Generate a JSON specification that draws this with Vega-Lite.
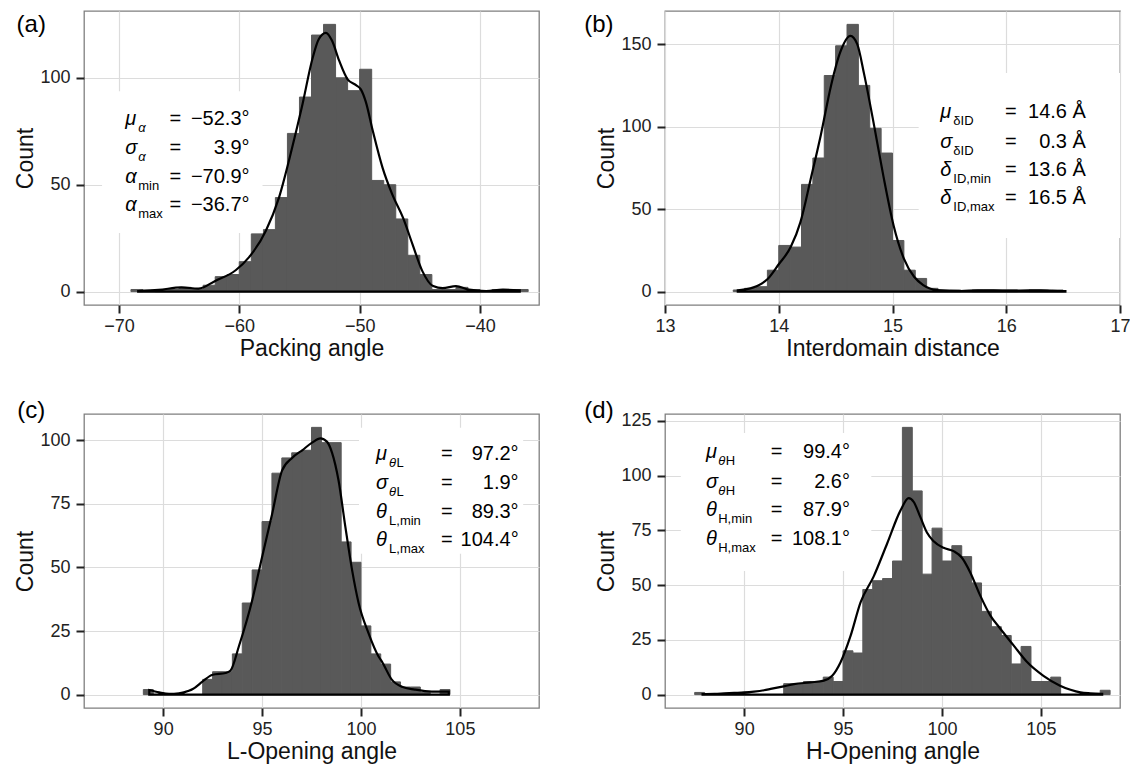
{
"$schema": "https://vega.github.io/schema/vega-lite/v6.json",
"background": "white",
"padding": {"left": 14, "top": 10, "right": 2, "bottom": 2},
"autosize": {"type": "pad"},
"config": {
 "font": "Liberation Sans",
 "view": {"stroke": "#7f7f7f", "strokeWidth": 1.3},
 "axis": {"domain": false, "labelFont": "Liberation Sans", "titleFont": "Liberation Sans", "labelFontSize": 18, "titleFontSize": 23, "titleFontWeight": "normal", "labelColor": "#222", "titleColor": "#111", "tickColor": "#222", "tickWidth": 2, "tickSize": 8, "labelPadding": 4, "titlePadding": 2, "gridColor": "#dcdcdc", "gridWidth": 1.2, "labelFlush": false, "labelOverlap": false},
 "axisY": {"titlePadding": 2, "labelPadding": 6},
 "text": {"font": "Liberation Sans", "color": "#000"}
},
"datasets": {
 "hist_a": [
  {"x0":-69,"x1":-68,"n":1},{"x0":-67,"x1":-66,"n":1},{"x0":-66,"x1":-65,"n":1},{"x0":-65,"x1":-64,"n":2},{"x0":-64,"x1":-63,"n":1},{"x0":-63,"x1":-62,"n":3},{"x0":-62,"x1":-61,"n":7},{"x0":-61,"x1":-60,"n":8},{"x0":-60,"x1":-59,"n":14},{"x0":-59,"x1":-58,"n":27},{"x0":-58,"x1":-57,"n":29},{"x0":-57,"x1":-56,"n":44},{"x0":-56,"x1":-55,"n":74},{"x0":-55,"x1":-54,"n":91},{"x0":-54,"x1":-53,"n":120},{"x0":-53,"x1":-52,"n":125},{"x0":-52,"x1":-51,"n":100},{"x0":-51,"x1":-50,"n":94},{"x0":-50,"x1":-49,"n":104},{"x0":-49,"x1":-48,"n":52},{"x0":-48,"x1":-47,"n":50},{"x0":-47,"x1":-46,"n":34},{"x0":-46,"x1":-45,"n":17},{"x0":-45,"x1":-44,"n":8},{"x0":-44,"x1":-43,"n":1},{"x0":-43,"x1":-42,"n":1},{"x0":-42,"x1":-41,"n":2},{"x0":-41,"x1":-40,"n":1},{"x0":-39,"x1":-38,"n":1},{"x0":-38,"x1":-37,"n":1},{"x0":-37,"x1":-36,"n":1}
 ],
 "dens_a": [
  {"x":-68.4,"y":0.3},{"x":-66.7,"y":0.8},{"x":-64.8,"y":2.0},{"x":-63.4,"y":1.4},{"x":-62.0,"y":5},{"x":-60.3,"y":10},{"x":-59.2,"y":16},{"x":-57.8,"y":28.4},{"x":-56.7,"y":44},{"x":-55.6,"y":67.5},{"x":-54.8,"y":86.3},{"x":-53.9,"y":109.4},{"x":-53.4,"y":118},{"x":-52.8,"y":121},{"x":-52.3,"y":117.4},{"x":-51.7,"y":108},{"x":-51.0,"y":99.3},{"x":-50.3,"y":96.6},{"x":-49.9,"y":94.6},{"x":-49.5,"y":89},{"x":-48.9,"y":75},{"x":-48.1,"y":58},{"x":-47.3,"y":45.6},{"x":-46.4,"y":34.6},{"x":-45.6,"y":22},{"x":-44.8,"y":9.7},{"x":-43.9,"y":2.6},{"x":-43.1,"y":1.6},{"x":-42.0,"y":2.6},{"x":-40.9,"y":0.9},{"x":-39.5,"y":0.3},{"x":-38.1,"y":0.9},{"x":-36.7,"y":0.6}
 ],
 "box_a": [{"x0":-71.4,"x1":-58.07,"y0":27.4,"y1":93.7,"lx":-78.5,"ly":121.4,"lab":"(a)"}],
 "ann_a": [
  {"y":77.9,"sym":"μ","subi":"α","subr":"","sub":"","val":"−52.3°"},
  {"y":64.4,"sym":"σ","subi":"α","subr":"","sub":"","val":"3.9°"},
  {"y":50.8,"sym":"α","subi":"","subr":"","sub":"min","val":"−70.9°"},
  {"y":37.7,"sym":"α","subi":"","subr":"","sub":"max","val":"−36.7°"}
 ],
 "hist_b": [
  {"x0":13.6,"x1":13.7,"n":1},{"x0":13.7,"x1":13.8,"n":2},{"x0":13.8,"x1":13.9,"n":3},{"x0":13.9,"x1":14.0,"n":13},{"x0":14.0,"x1":14.1,"n":28},{"x0":14.1,"x1":14.2,"n":27},{"x0":14.2,"x1":14.3,"n":65},{"x0":14.3,"x1":14.4,"n":81},{"x0":14.4,"x1":14.5,"n":131},{"x0":14.5,"x1":14.6,"n":149},{"x0":14.6,"x1":14.7,"n":162},{"x0":14.7,"x1":14.8,"n":125},{"x0":14.8,"x1":14.9,"n":99},{"x0":14.9,"x1":15.0,"n":84},{"x0":15.0,"x1":15.1,"n":31},{"x0":15.1,"x1":15.2,"n":13},{"x0":15.2,"x1":15.3,"n":8},{"x0":15.3,"x1":15.4,"n":2},{"x0":15.4,"x1":15.5,"n":1},{"x0":15.5,"x1":15.6,"n":1},{"x0":15.7,"x1":15.8,"n":1},{"x0":15.8,"x1":15.9,"n":1},{"x0":15.9,"x1":16.0,"n":1},{"x0":16.0,"x1":16.1,"n":1},{"x0":16.2,"x1":16.3,"n":1},{"x0":16.3,"x1":16.4,"n":1},{"x0":16.4,"x1":16.5,"n":1}
 ],
 "dens_b": [
  {"x":13.64,"y":0.8},{"x":13.75,"y":2.0},{"x":13.81,"y":3.4},{"x":13.90,"y":7.5},{"x":14.0,"y":16.6},{"x":14.105,"y":27},{"x":14.19,"y":42},{"x":14.28,"y":68},{"x":14.37,"y":95},{"x":14.46,"y":125},{"x":14.54,"y":145},{"x":14.63,"y":155},{"x":14.69,"y":150},{"x":14.75,"y":132},{"x":14.84,"y":100},{"x":14.92,"y":70},{"x":15.01,"y":40},{"x":15.10,"y":20},{"x":15.19,"y":9},{"x":15.27,"y":4},{"x":15.39,"y":1},{"x":15.6,"y":0.4},{"x":15.75,"y":0.8},{"x":15.89,"y":0.8},{"x":16.04,"y":0.6},{"x":16.2,"y":0.8},{"x":16.3,"y":0.8},{"x":16.4,"y":0.5},{"x":16.52,"y":0.3}
 ],
 "box_b": [{"x0":15.23,"x1":17.0,"y0":32.5,"y1":132.5,"lx":12.29,"ly":157.4,"lab":"(b)"}],
 "ann_b": [
  {"y":105.2,"sym":"μ","subi":"","subr":"","sub":"δID","val":"14.6 Å"},
  {"y":87.1,"sym":"σ","subi":"","subr":"","sub":"δID","val":"0.3 Å"},
  {"y":70.1,"sym":"δ","subi":"","subr":"","sub":"ID,min","val":"13.6 Å"},
  {"y":53.1,"sym":"δ","subi":"","subr":"","sub":"ID,max","val":"16.5 Å"}
 ],
 "hist_c": [
  {"x0":89.0,"x1":89.5,"n":2},{"x0":92.0,"x1":92.5,"n":6},{"x0":92.5,"x1":93.0,"n":9},{"x0":93.0,"x1":93.5,"n":9},{"x0":93.5,"x1":94.0,"n":16},{"x0":94.0,"x1":94.5,"n":36},{"x0":94.5,"x1":95.0,"n":49},{"x0":95.0,"x1":95.5,"n":68},{"x0":95.5,"x1":96.0,"n":87},{"x0":96.0,"x1":96.5,"n":93},{"x0":96.5,"x1":97.0,"n":95},{"x0":97.0,"x1":97.5,"n":96},{"x0":97.5,"x1":98.0,"n":105},{"x0":98.0,"x1":98.5,"n":99},{"x0":98.5,"x1":99.0,"n":99},{"x0":99.0,"x1":99.5,"n":60},{"x0":99.5,"x1":100.0,"n":52},{"x0":100.0,"x1":100.5,"n":27},{"x0":100.5,"x1":101.0,"n":16},{"x0":101.0,"x1":101.5,"n":12},{"x0":101.5,"x1":102.0,"n":5},{"x0":102.0,"x1":102.5,"n":3},{"x0":102.5,"x1":103.0,"n":3},{"x0":103.0,"x1":103.5,"n":1},{"x0":104.0,"x1":104.5,"n":2}
 ],
 "dens_c": [
  {"x":89.3,"y":1.8},{"x":89.8,"y":0.9},{"x":90.3,"y":0.3},{"x":90.8,"y":0.5},{"x":91.3,"y":1.5},{"x":91.5,"y":2.2},{"x":92.0,"y":5.2},{"x":92.5,"y":7.8},{"x":93.16,"y":8.5},{"x":93.41,"y":9.5},{"x":93.83,"y":19},{"x":94.5,"y":37},{"x":95.0,"y":54},{"x":95.51,"y":71},{"x":96.01,"y":88},{"x":96.52,"y":93},{"x":97.03,"y":96},{"x":97.53,"y":99},{"x":97.95,"y":100.7},{"x":98.29,"y":99.3},{"x":98.54,"y":95},{"x":98.87,"y":84},{"x":99.21,"y":66},{"x":99.55,"y":49},{"x":99.88,"y":36},{"x":100.39,"y":24},{"x":100.89,"y":15},{"x":101.06,"y":13},{"x":101.56,"y":5.9},{"x":102.07,"y":3.1},{"x":102.72,"y":2},{"x":103.58,"y":1.2},{"x":104.44,"y":1.2}
 ],
 "box_c": [{"x0":99.9,"x1":108.2,"y0":55.3,"y1":104.8,"lx":82.62,"ly":108.7,"lab":"(c)"}],
 "ann_c": [
  {"y":92.2,"sym":"μ","subi":"θ","subr":"L","sub":"","val":"97.2°"},
  {"y":80.8,"sym":"σ","subi":"θ","subr":"L","sub":"","val":"1.9°"},
  {"y":69.45,"sym":"θ","subi":"","subr":"","sub":"L,min","val":"89.3°"},
  {"y":58.5,"sym":"θ","subi":"","subr":"","sub":"L,max","val":"104.4°"}
 ],
 "hist_d": [
  {"x0":87.5,"x1":88.0,"n":1},{"x0":92.0,"x1":92.5,"n":5},{"x0":92.5,"x1":93.0,"n":5},{"x0":93.0,"x1":93.5,"n":6},{"x0":93.5,"x1":94.0,"n":6},{"x0":94.0,"x1":94.5,"n":8},{"x0":94.5,"x1":95.0,"n":6},{"x0":95.0,"x1":95.5,"n":20},{"x0":95.5,"x1":96.0,"n":19},{"x0":96.0,"x1":96.5,"n":48},{"x0":96.5,"x1":97.0,"n":52},{"x0":97.0,"x1":97.5,"n":53},{"x0":97.5,"x1":98.0,"n":61},{"x0":98.0,"x1":98.5,"n":122},{"x0":98.5,"x1":99.0,"n":93},{"x0":99.0,"x1":99.5,"n":55},{"x0":99.5,"x1":100.0,"n":76},{"x0":100.0,"x1":100.5,"n":61},{"x0":100.5,"x1":101.0,"n":68},{"x0":101.0,"x1":101.5,"n":63},{"x0":101.5,"x1":102.0,"n":51},{"x0":102.0,"x1":102.5,"n":38},{"x0":102.5,"x1":103.0,"n":31},{"x0":103.0,"x1":103.5,"n":27},{"x0":103.5,"x1":104.0,"n":14},{"x0":104.0,"x1":104.5,"n":22},{"x0":104.5,"x1":105.0,"n":6},{"x0":105.0,"x1":105.5,"n":6},{"x0":105.5,"x1":106.0,"n":8},{"x0":108.0,"x1":108.5,"n":2}
 ],
 "dens_d": [
  {"x":87.9,"y":0.3},{"x":88.5,"y":0.4},{"x":89.0,"y":0.6},{"x":89.5,"y":0.8},{"x":90.0,"y":1.0},{"x":90.5,"y":1.4},{"x":91.0,"y":2.0},{"x":91.34,"y":2.6},{"x":92.0,"y":3.8},{"x":92.52,"y":4.8},{"x":93.36,"y":5.6},{"x":94.03,"y":6.4},{"x":94.45,"y":8.6},{"x":94.87,"y":14.7},{"x":95.38,"y":26.8},{"x":95.88,"y":42},{"x":96.55,"y":54},{"x":97.23,"y":69},{"x":97.9,"y":84},{"x":98.32,"y":89.7},{"x":98.57,"y":88},{"x":98.91,"y":81},{"x":99.24,"y":74},{"x":99.58,"y":70},{"x":100.08,"y":67},{"x":100.59,"y":65.5},{"x":101.0,"y":62.6},{"x":101.43,"y":55.8},{"x":101.93,"y":45.3},{"x":102.44,"y":36.2},{"x":102.94,"y":30.2},{"x":103.61,"y":22.6},{"x":104.29,"y":15},{"x":105.13,"y":8.6},{"x":105.97,"y":4.1},{"x":106.5,"y":2.2},{"x":107.0,"y":1.0},{"x":107.5,"y":0.6},{"x":108.1,"y":0.4}
 ],
 "box_d": [{"x0":86.8,"x1":96.43,"y0":56.4,"y1":119.4,"lx":81.92,"ly":126.3,"lab":"(d)"}],
 "ann_d": [
  {"y":108.0,"sym":"μ","subi":"θ","subr":"H","sub":"","val":"99.4°"},
  {"y":94.3,"sym":"σ","subi":"θ","subr":"H","sub":"","val":"2.6°"},
  {"y":81.5,"sym":"θ","subi":"","subr":"","sub":"H,min","val":"87.9°"},
  {"y":68.3,"sym":"θ","subi":"","subr":"","sub":"H,max","val":"108.1°"}
 ]
},
"columns": 2,
"bounds": "flush",
"spacing": {"column": 126, "row": 109},
"concat": [
 {
  "width": 455, "height": 294,
  "resolve": {"axis": {"x": "independent", "y": "independent"}},
  "layer": [
   {"data": {"name": "hist_a"}, "mark": {"type": "rect", "color": "#595959", "stroke": "#595959", "strokeWidth": 1},
    "encoding": {
     "x": {"field": "x0", "type": "quantitative", "scale": {"domain": [-72.9, -35.1], "nice": false, "zero": false}, "axis": {"values": [-70, -60, -50, -40], "title": "Packing angle"}},
     "x2": {"field": "x1"},
     "y": {"field": "n", "type": "quantitative", "scale": {"domain": [-6.25, 131.25], "nice": false, "zero": false}, "axis": {"values": [0, 50, 100], "title": "Count"}},
     "y2": {"datum": 0}}},
   {"data": {"name": "box_a"}, "mark": {"type": "rect", "color": "white"},
    "encoding": {
     "x": {"field": "x0", "type": "quantitative", "scale": {"domain": [-72.9, -35.1], "nice": false, "zero": false}, "axis": {"orient": "bottom", "values": [-65, -55, -45], "ticks": false, "labels": false, "title": null, "gridColor": "#efefef", "gridWidth": 1}},
     "x2": {"field": "x1"},
     "y": {"field": "y0", "type": "quantitative", "scale": {"domain": [-6.25, 131.25], "nice": false, "zero": false}, "axis": {"orient": "left", "values": [25, 75, 125], "ticks": false, "labels": false, "title": null, "gridColor": "#efefef", "gridWidth": 1}},
     "y2": {"field": "y1"}}},
   {"data": {"name": "dens_a"}, "mark": {"type": "area", "fillOpacity": 0, "stroke": "#000", "strokeWidth": 2.2, "interpolate": "monotone"},
    "encoding": {
     "x": {"field": "x", "type": "quantitative", "scale": {"domain": [-72.9, -35.1], "nice": false, "zero": false}, "axis": null},
     "y": {"field": "y", "type": "quantitative", "scale": {"domain": [-6.25, 131.25], "nice": false, "zero": false}, "axis": null},
     "y2": {"datum": 0}}},
   {"data": {"name": "box_a"}, "mark": {"type": "text", "align": "left", "baseline": "alphabetic", "fontSize": 24},
    "encoding": {"x": {"field": "lx", "type": "quantitative", "axis": null}, "y": {"field": "ly", "type": "quantitative", "axis": null}, "text": {"field": "lab"}}},
   {"data": {"name": "ann_a"}, "mark": {"type": "text", "align": "left", "baseline": "alphabetic", "fontSize": 20, "fontStyle": "italic"},
    "encoding": {"x": {"datum": -69.48, "type": "quantitative", "axis": null}, "y": {"field": "y", "type": "quantitative", "axis": null}, "text": {"field": "sym"}}},
   {"data": {"name": "ann_a"}, "mark": {"type": "text", "align": "left", "baseline": "alphabetic", "fontSize": 13, "fontStyle": "italic", "dy": 7},
    "encoding": {"x": {"datum": -68.4, "type": "quantitative", "axis": null}, "y": {"field": "y", "type": "quantitative", "axis": null}, "text": {"field": "subi"}}},
   {"data": {"name": "ann_a"}, "mark": {"type": "text", "align": "left", "baseline": "alphabetic", "fontSize": 13, "dy": 7},
    "encoding": {"x": {"datum": -68.4, "type": "quantitative", "axis": null}, "y": {"field": "y", "type": "quantitative", "axis": null}, "text": {"field": "sub"}}},
   {"data": {"name": "ann_a"}, "mark": {"type": "text", "align": "left", "baseline": "alphabetic", "fontSize": 20},
    "encoding": {"x": {"datum": -65.8, "type": "quantitative", "axis": null}, "y": {"field": "y", "type": "quantitative", "axis": null}, "text": {"value": "="}}},
   {"data": {"name": "ann_a"}, "mark": {"type": "text", "align": "right", "baseline": "alphabetic", "fontSize": 20},
    "encoding": {"x": {"datum": -59.15, "type": "quantitative", "axis": null}, "y": {"field": "y", "type": "quantitative", "axis": null}, "text": {"field": "val"}}}
  ]
 },
 {
  "width": 455, "height": 294,
  "resolve": {"axis": {"x": "independent", "y": "independent"}},
  "layer": [
   {"data": {"name": "hist_b"}, "mark": {"type": "rect", "color": "#595959", "stroke": "#595959", "strokeWidth": 1},
    "encoding": {
     "x": {"field": "x0", "type": "quantitative", "scale": {"domain": [13, 17], "nice": false, "zero": false}, "axis": {"values": [13, 14, 15, 16, 17], "title": "Interdomain distance"}},
     "x2": {"field": "x1"},
     "y": {"field": "n", "type": "quantitative", "scale": {"domain": [-8.1, 170.1], "nice": false, "zero": false}, "axis": {"values": [0, 50, 100, 150], "title": "Count"}},
     "y2": {"datum": 0}}},
   {"data": {"name": "box_b"}, "mark": {"type": "rect", "color": "white"},
    "encoding": {
     "x": {"field": "x0", "type": "quantitative", "scale": {"domain": [13, 17], "nice": false, "zero": false}, "axis": {"orient": "bottom", "values": [13.5, 14.5, 15.5, 16.5], "ticks": false, "labels": false, "title": null, "gridColor": "#efefef", "gridWidth": 1}},
     "x2": {"field": "x1"},
     "y": {"field": "y0", "type": "quantitative", "scale": {"domain": [-8.1, 170.1], "nice": false, "zero": false}, "axis": {"orient": "left", "values": [25, 75, 125], "ticks": false, "labels": false, "title": null, "gridColor": "#efefef", "gridWidth": 1}},
     "y2": {"field": "y1"}}},
   {"data": {"name": "dens_b"}, "mark": {"type": "area", "fillOpacity": 0, "stroke": "#000", "strokeWidth": 2.2, "interpolate": "monotone"},
    "encoding": {
     "x": {"field": "x", "type": "quantitative", "scale": {"domain": [13, 17], "nice": false, "zero": false}, "axis": null},
     "y": {"field": "y", "type": "quantitative", "scale": {"domain": [-8.1, 170.1], "nice": false, "zero": false}, "axis": null},
     "y2": {"datum": 0}}},
   {"data": {"name": "box_b"}, "mark": {"type": "text", "align": "left", "baseline": "alphabetic", "fontSize": 24},
    "encoding": {"x": {"field": "lx", "type": "quantitative", "axis": null}, "y": {"field": "ly", "type": "quantitative", "axis": null}, "text": {"field": "lab"}}},
   {"data": {"name": "ann_b"}, "mark": {"type": "text", "align": "left", "baseline": "alphabetic", "fontSize": 20, "fontStyle": "italic"},
    "encoding": {"x": {"datum": 15.42, "type": "quantitative", "axis": null}, "y": {"field": "y", "type": "quantitative", "axis": null}, "text": {"field": "sym"}}},
   {"data": {"name": "ann_b"}, "mark": {"type": "text", "align": "left", "baseline": "alphabetic", "fontSize": 13, "dy": 7},
    "encoding": {"x": {"datum": 15.535, "type": "quantitative", "axis": null}, "y": {"field": "y", "type": "quantitative", "axis": null}, "text": {"field": "sub"}}},
   {"data": {"name": "ann_b"}, "mark": {"type": "text", "align": "left", "baseline": "alphabetic", "fontSize": 20},
    "encoding": {"x": {"datum": 15.99, "type": "quantitative", "axis": null}, "y": {"field": "y", "type": "quantitative", "axis": null}, "text": {"value": "="}}},
   {"data": {"name": "ann_b"}, "mark": {"type": "text", "align": "right", "baseline": "alphabetic", "fontSize": 20},
    "encoding": {"x": {"datum": 16.7, "type": "quantitative", "axis": null}, "y": {"field": "y", "type": "quantitative", "axis": null}, "text": {"field": "val"}}}
  ]
 },
 {
  "width": 455, "height": 294,
  "resolve": {"axis": {"x": "independent", "y": "independent"}},
  "layer": [
   {"data": {"name": "hist_c"}, "mark": {"type": "rect", "color": "#595959", "stroke": "#595959", "strokeWidth": 1},
    "encoding": {
     "x": {"field": "x0", "type": "quantitative", "scale": {"domain": [86, 109], "nice": false, "zero": false}, "axis": {"values": [90, 95, 100, 105], "title": "L-Opening angle"}},
     "x2": {"field": "x1"},
     "y": {"field": "n", "type": "quantitative", "scale": {"domain": [-5.25, 110.25], "nice": false, "zero": false}, "axis": {"values": [0, 25, 50, 75, 100], "title": "Count"}},
     "y2": {"datum": 0}}},
   {"data": {"name": "box_c"}, "mark": {"type": "rect", "color": "white"},
    "encoding": {
     "x": {"field": "x0", "type": "quantitative", "scale": {"domain": [86, 109], "nice": false, "zero": false}, "axis": {"orient": "bottom", "values": [87.5, 92.5, 97.5, 102.5, 107.5], "ticks": false, "labels": false, "title": null, "gridColor": "#efefef", "gridWidth": 1}},
     "x2": {"field": "x1"},
     "y": {"field": "y0", "type": "quantitative", "scale": {"domain": [-5.25, 110.25], "nice": false, "zero": false}, "axis": {"orient": "left", "values": [12.5, 37.5, 62.5, 87.5], "ticks": false, "labels": false, "title": null, "gridColor": "#efefef", "gridWidth": 1}},
     "y2": {"field": "y1"}}},
   {"data": {"name": "dens_c"}, "mark": {"type": "area", "fillOpacity": 0, "stroke": "#000", "strokeWidth": 2.2, "interpolate": "monotone"},
    "encoding": {
     "x": {"field": "x", "type": "quantitative", "scale": {"domain": [86, 109], "nice": false, "zero": false}, "axis": null},
     "y": {"field": "y", "type": "quantitative", "scale": {"domain": [-5.25, 110.25], "nice": false, "zero": false}, "axis": null},
     "y2": {"datum": 0}}},
   {"data": {"name": "box_c"}, "mark": {"type": "text", "align": "left", "baseline": "alphabetic", "fontSize": 24},
    "encoding": {"x": {"field": "lx", "type": "quantitative", "axis": null}, "y": {"field": "ly", "type": "quantitative", "axis": null}, "text": {"field": "lab"}}},
   {"data": {"name": "ann_c"}, "mark": {"type": "text", "align": "left", "baseline": "alphabetic", "fontSize": 20, "fontStyle": "italic"},
    "encoding": {"x": {"datum": 100.76, "type": "quantitative", "axis": null}, "y": {"field": "y", "type": "quantitative", "axis": null}, "text": {"field": "sym"}}},
   {"data": {"name": "ann_c"}, "mark": {"type": "text", "align": "left", "baseline": "alphabetic", "fontSize": 13, "fontStyle": "italic", "dy": 7},
    "encoding": {"x": {"datum": 101.42, "type": "quantitative", "axis": null}, "y": {"field": "y", "type": "quantitative", "axis": null}, "text": {"field": "subi"}}},
   {"data": {"name": "ann_c"}, "mark": {"type": "text", "align": "left", "baseline": "alphabetic", "fontSize": 13, "dy": 7, "dx": 7.5},
    "encoding": {"x": {"datum": 101.42, "type": "quantitative", "axis": null}, "y": {"field": "y", "type": "quantitative", "axis": null}, "text": {"field": "subr"}}},
   {"data": {"name": "ann_c"}, "mark": {"type": "text", "align": "left", "baseline": "alphabetic", "fontSize": 13, "dy": 7},
    "encoding": {"x": {"datum": 101.42, "type": "quantitative", "axis": null}, "y": {"field": "y", "type": "quantitative", "axis": null}, "text": {"field": "sub"}}},
   {"data": {"name": "ann_c"}, "mark": {"type": "text", "align": "left", "baseline": "alphabetic", "fontSize": 20},
    "encoding": {"x": {"datum": 104.04, "type": "quantitative", "axis": null}, "y": {"field": "y", "type": "quantitative", "axis": null}, "text": {"value": "="}}},
   {"data": {"name": "ann_c"}, "mark": {"type": "text", "align": "right", "baseline": "alphabetic", "fontSize": 20},
    "encoding": {"x": {"datum": 107.97, "type": "quantitative", "axis": null}, "y": {"field": "y", "type": "quantitative", "axis": null}, "text": {"field": "val"}}}
  ]
 },
 {
  "width": 455, "height": 294,
  "resolve": {"axis": {"x": "independent", "y": "independent"}},
  "layer": [
   {"data": {"name": "hist_d"}, "mark": {"type": "rect", "color": "#595959", "stroke": "#595959", "strokeWidth": 1},
    "encoding": {
     "x": {"field": "x0", "type": "quantitative", "scale": {"domain": [86, 109], "nice": false, "zero": false}, "axis": {"values": [90, 95, 100, 105], "title": "H-Opening angle"}},
     "x2": {"field": "x1"},
     "y": {"field": "n", "type": "quantitative", "scale": {"domain": [-6.1, 128.1], "nice": false, "zero": false}, "axis": {"values": [0, 25, 50, 75, 100, 125], "title": "Count"}},
     "y2": {"datum": 0}}},
   {"data": {"name": "box_d"}, "mark": {"type": "rect", "color": "white"},
    "encoding": {
     "x": {"field": "x0", "type": "quantitative", "scale": {"domain": [86, 109], "nice": false, "zero": false}, "axis": {"orient": "bottom", "values": [87.5, 92.5, 97.5, 102.5, 107.5], "ticks": false, "labels": false, "title": null, "gridColor": "#efefef", "gridWidth": 1}},
     "x2": {"field": "x1"},
     "y": {"field": "y0", "type": "quantitative", "scale": {"domain": [-6.1, 128.1], "nice": false, "zero": false}, "axis": {"orient": "left", "values": [12.5, 37.5, 62.5, 87.5, 112.5], "ticks": false, "labels": false, "title": null, "gridColor": "#efefef", "gridWidth": 1}},
     "y2": {"field": "y1"}}},
   {"data": {"name": "dens_d"}, "mark": {"type": "area", "fillOpacity": 0, "stroke": "#000", "strokeWidth": 2.2, "interpolate": "monotone"},
    "encoding": {
     "x": {"field": "x", "type": "quantitative", "scale": {"domain": [86, 109], "nice": false, "zero": false}, "axis": null},
     "y": {"field": "y", "type": "quantitative", "scale": {"domain": [-6.1, 128.1], "nice": false, "zero": false}, "axis": null},
     "y2": {"datum": 0}}},
   {"data": {"name": "box_d"}, "mark": {"type": "text", "align": "left", "baseline": "alphabetic", "fontSize": 24},
    "encoding": {"x": {"field": "lx", "type": "quantitative", "axis": null}, "y": {"field": "ly", "type": "quantitative", "axis": null}, "text": {"field": "lab"}}},
   {"data": {"name": "ann_d"}, "mark": {"type": "text", "align": "left", "baseline": "alphabetic", "fontSize": 20, "fontStyle": "italic"},
    "encoding": {"x": {"datum": 88.07, "type": "quantitative", "axis": null}, "y": {"field": "y", "type": "quantitative", "axis": null}, "text": {"field": "sym"}}},
   {"data": {"name": "ann_d"}, "mark": {"type": "text", "align": "left", "baseline": "alphabetic", "fontSize": 13, "fontStyle": "italic", "dy": 7},
    "encoding": {"x": {"datum": 88.69, "type": "quantitative", "axis": null}, "y": {"field": "y", "type": "quantitative", "axis": null}, "text": {"field": "subi"}}},
   {"data": {"name": "ann_d"}, "mark": {"type": "text", "align": "left", "baseline": "alphabetic", "fontSize": 13, "dy": 7, "dx": 7.5},
    "encoding": {"x": {"datum": 88.69, "type": "quantitative", "axis": null}, "y": {"field": "y", "type": "quantitative", "axis": null}, "text": {"field": "subr"}}},
   {"data": {"name": "ann_d"}, "mark": {"type": "text", "align": "left", "baseline": "alphabetic", "fontSize": 13, "dy": 7},
    "encoding": {"x": {"datum": 88.69, "type": "quantitative", "axis": null}, "y": {"field": "y", "type": "quantitative", "axis": null}, "text": {"field": "sub"}}},
   {"data": {"name": "ann_d"}, "mark": {"type": "text", "align": "left", "baseline": "alphabetic", "fontSize": 20},
    "encoding": {"x": {"datum": 91.35, "type": "quantitative", "axis": null}, "y": {"field": "y", "type": "quantitative", "axis": null}, "text": {"value": "="}}},
   {"data": {"name": "ann_d"}, "mark": {"type": "text", "align": "right", "baseline": "alphabetic", "fontSize": 20},
    "encoding": {"x": {"datum": 95.35, "type": "quantitative", "axis": null}, "y": {"field": "y", "type": "quantitative", "axis": null}, "text": {"field": "val"}}}
  ]
 }
]
}
